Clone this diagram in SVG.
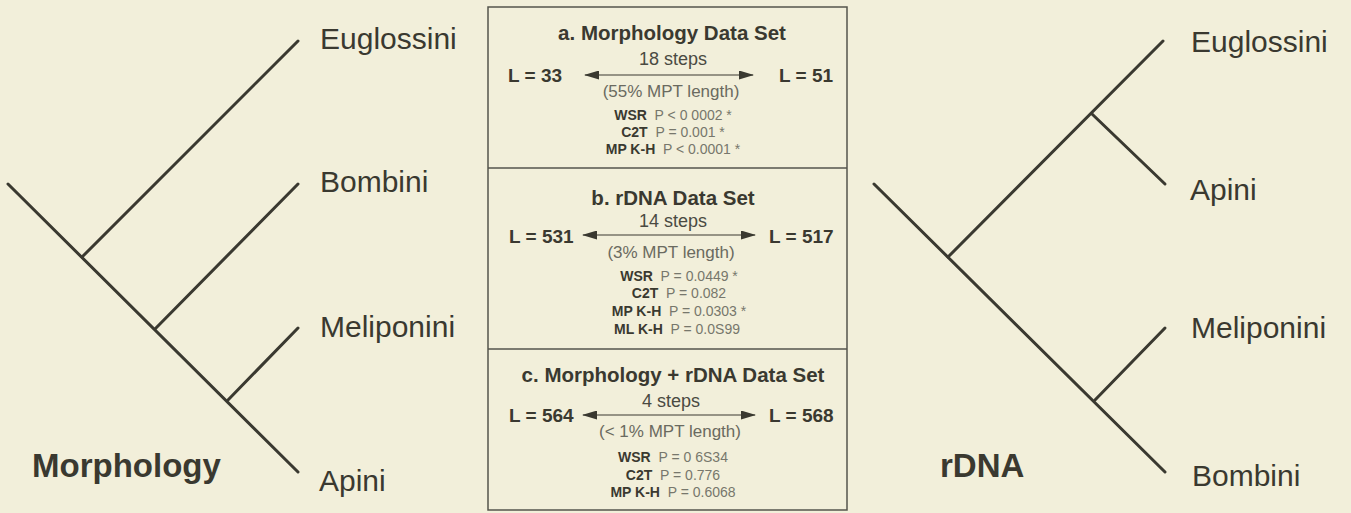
<svg xmlns="http://www.w3.org/2000/svg" width="1351" height="513" viewBox="0 0 1351 513">
<defs>
<style>
.br{stroke:#3a3930;stroke-width:3;stroke-linecap:round;fill:none}
.tx{font-family:"Liberation Sans",Arial,sans-serif;fill:#3a3930}
.lab{font-size:30px}
.big{font-size:33px;font-weight:bold}
.ttl{font-size:20.5px;font-weight:bold;text-anchor:middle}
.L{font-size:19px;font-weight:bold}
.st{font-size:18px;text-anchor:middle;fill:#4a4a42}
.pc{font-size:17px;text-anchor:middle;fill:#6a6a60}
.sm{font-size:14px;text-anchor:middle;fill:#77776c}
.sm tspan.b{font-weight:bold;fill:#3a3930}
.box{fill:none;stroke:#55554c;stroke-width:1.5}
.arr{stroke:#3a3930;stroke-width:1.2}
</style>
<marker id="ah" viewBox="0 0 15 9" refX="14" refY="4.5" markerWidth="15" markerHeight="9" markerUnits="userSpaceOnUse" orient="auto-start-reverse"><path d="M0,0 L15,4.5 L0,9 z" fill="#3a3930"/></marker>
</defs>
<rect width="1351" height="513" fill="#f2efda"/>

<g id="morph-tree">
<line class="br" x1="8" y1="184" x2="298" y2="472"/>
<line class="br" x1="82" y1="257" x2="298" y2="41"/>
<line class="br" x1="155" y1="329" x2="298" y2="184"/>
<line class="br" x1="228" y1="400" x2="298" y2="328"/>
</g>
<g id="morph-labels">
<text class="tx lab" x="320" y="49">Euglossini</text>
<text class="tx lab" x="320" y="192">Bombini</text>
<text class="tx lab" x="320" y="337">Meliponini</text>
<text class="tx lab" x="319" y="491">Apini</text>
<text class="tx big" x="32" y="477">Morphology</text>
</g>

<g id="rdna-tree">
<line class="br" x1="874" y1="184" x2="1165" y2="472"/>
<line class="br" x1="948" y1="257" x2="1163" y2="41"/>
<line class="br" x1="1092" y1="114" x2="1165" y2="184"/>
<line class="br" x1="1095" y1="400" x2="1165" y2="328"/>
</g>
<g id="rdna-labels">
<text class="tx lab" x="1191" y="52">Euglossini</text>
<text class="tx lab" x="1190" y="200">Apini</text>
<text class="tx lab" x="1191" y="338">Meliponini</text>
<text class="tx lab" x="1192" y="486">Bombini</text>
<text class="tx big" x="940" y="477">rDNA</text>
</g>

<g id="box">
<rect class="box" x="488" y="7" width="359" height="503"/>
<line class="box" x1="488" y1="168" x2="847" y2="168"/>
<line class="box" x1="488" y1="349" x2="847" y2="349"/>
</g>

<g id="connectors">
<line class="arr" x1="585" y1="75" x2="753" y2="75" marker-start="url(#ah)" marker-end="url(#ah)"/>
<line class="arr" x1="583" y1="235" x2="755" y2="235" marker-start="url(#ah)" marker-end="url(#ah)"/>
<line class="arr" x1="583" y1="415" x2="755" y2="415" marker-start="url(#ah)" marker-end="url(#ah)"/>
</g>

<g id="panel-a">
<text class="tx ttl" x="672" y="40">a. Morphology Data Set</text>
<text class="tx st" x="673" y="65">18 steps</text>
<text class="tx L" x="508" y="82">L = 33</text>
<text class="tx L" x="779" y="82">L = 51</text>
<text class="tx pc" x="671" y="97">(55% MPT length)</text>
<text class="tx sm" x="673" y="120"><tspan class="b">WSR</tspan>&#160;&#160;P &lt; 0 0002 *</text>
<text class="tx sm" x="673" y="137"><tspan class="b">C2T</tspan>&#160;&#160;P = 0.001 *</text>
<text class="tx sm" x="673" y="154"><tspan class="b">MP K-H</tspan>&#160;&#160;P &lt; 0.0001 *</text>
</g>

<g id="panel-b">
<text class="tx ttl" x="673" y="205">b. rDNA Data Set</text>
<text class="tx st" x="673" y="227">14 steps</text>
<text class="tx L" x="509" y="243">L = 531</text>
<text class="tx L" x="769" y="243">L = 517</text>
<text class="tx pc" x="671" y="258">(3% MPT length)</text>
<text class="tx sm" x="679" y="281"><tspan class="b">WSR</tspan>&#160;&#160;P = 0.0449 *</text>
<text class="tx sm" x="679" y="298"><tspan class="b">C2T</tspan>&#160;&#160;P = 0.082</text>
<text class="tx sm" x="679" y="316"><tspan class="b">MP K-H</tspan>&#160;&#160;P = 0.0303 *</text>
<text class="tx sm" x="677" y="334"><tspan class="b">ML K-H</tspan>&#160;&#160;P = 0.0S99</text>
</g>

<g id="panel-c">
<text class="tx ttl" x="673" y="382">c. Morphology + rDNA Data Set</text>
<text class="tx st" x="671" y="407">4 steps</text>
<text class="tx L" x="509" y="422">L = 564</text>
<text class="tx L" x="769" y="422">L = 568</text>
<text class="tx pc" x="670" y="437">(&lt; 1% MPT length)</text>
<text class="tx sm" x="673" y="462"><tspan class="b">WSR</tspan>&#160;&#160;P = 0 6S34</text>
<text class="tx sm" x="673" y="480"><tspan class="b">C2T</tspan>&#160;&#160;P = 0.776</text>
<text class="tx sm" x="673" y="497"><tspan class="b">MP K-H</tspan>&#160;&#160;P = 0.6068</text>
</g>
</svg>
